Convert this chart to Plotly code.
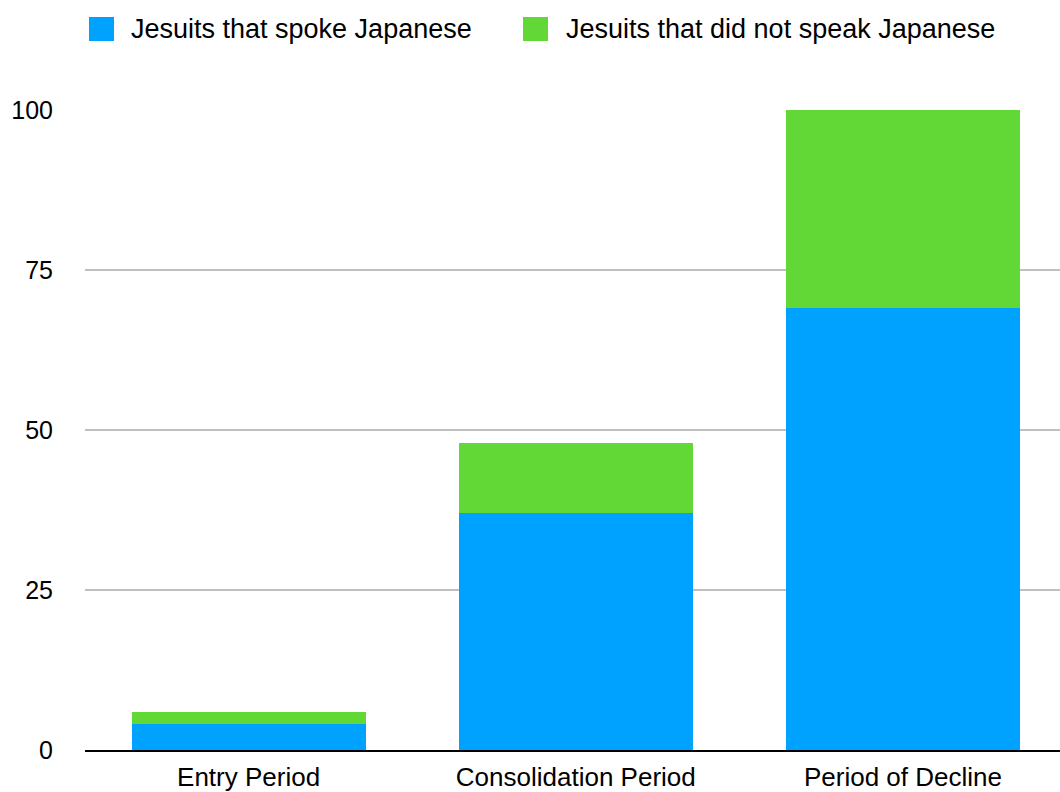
import plotly.graph_objects as go

categories = ["Entry Period", "Consolidation Period", "Period of Decline"]
spoke = [4, 37, 69]
did_not_speak = [2, 11, 31]
series_names = ["Jesuits that spoke Japanese", "Jesuits that did not speak Japanese"]
y_ticks = [0, 25, 50, 75, 100]

BLUE = "#00A2FF"
GREEN = "#61D836"
FONT = "Liberation Sans, Arial, Helvetica, sans-serif"

W, H = 1060, 792
L, R, T, B = 85, 0, 110, 42

fig = go.Figure()
fig.add_trace(go.Bar(x=categories, y=spoke, name=series_names[0], marker=dict(color=BLUE, line=dict(width=0))))
fig.add_trace(go.Bar(x=categories, y=did_not_speak, name=series_names[1], marker=dict(color=GREEN, line=dict(width=0))))

pw = W - L - R
ph = H - T - B

def px_x(p):
    return (p - L) / pw

def px_y(p):
    return (H - B - p) / ph

# custom legend (large square swatches)
legend_items = [(series_names[0], BLUE, 89, 129), (series_names[1], GREEN, 523, 564)]
for name, col, sx, tx in legend_items:
    fig.add_shape(type="rect", xref="paper", yref="paper",
                  x0=px_x(sx), x1=px_x(sx + 25), y0=px_y(17), y1=px_y(41),
                  fillcolor=col, line=dict(width=0))
    fig.add_annotation(xref="paper", yref="paper", x=px_x(tx), y=px_y(29),
                       text=name, showarrow=False, xanchor="left", yanchor="middle",
                       font=dict(family=FONT, size=27, color="#000000"))

fig.update_layout(
    width=W, height=H,
    margin=dict(l=L, r=R, t=T, b=B, pad=0),
    barmode="stack",
    bargap=0.285,
    showlegend=False,
    plot_bgcolor="white",
    paper_bgcolor="white",
    font=dict(family=FONT, size=24, color="#000000"),
)
fig.update_xaxes(
    range=[-0.5, 2.48],
    showgrid=False,
    showline=True, linecolor="#000000", linewidth=2,
    ticks="", tickfont=dict(size=26, color="#000000"),
    ticklabelstandoff=3,
)
fig.update_yaxes(
    range=[0, 100],
    tickvals=y_ticks,
    showgrid=True, gridcolor="#BFBFBF", gridwidth=2,
    zeroline=False, showline=False,
    ticks="", tickfont=dict(size=25, color="#000000"),
    ticklabelstandoff=31,
)

fig.write_html("out.html")
